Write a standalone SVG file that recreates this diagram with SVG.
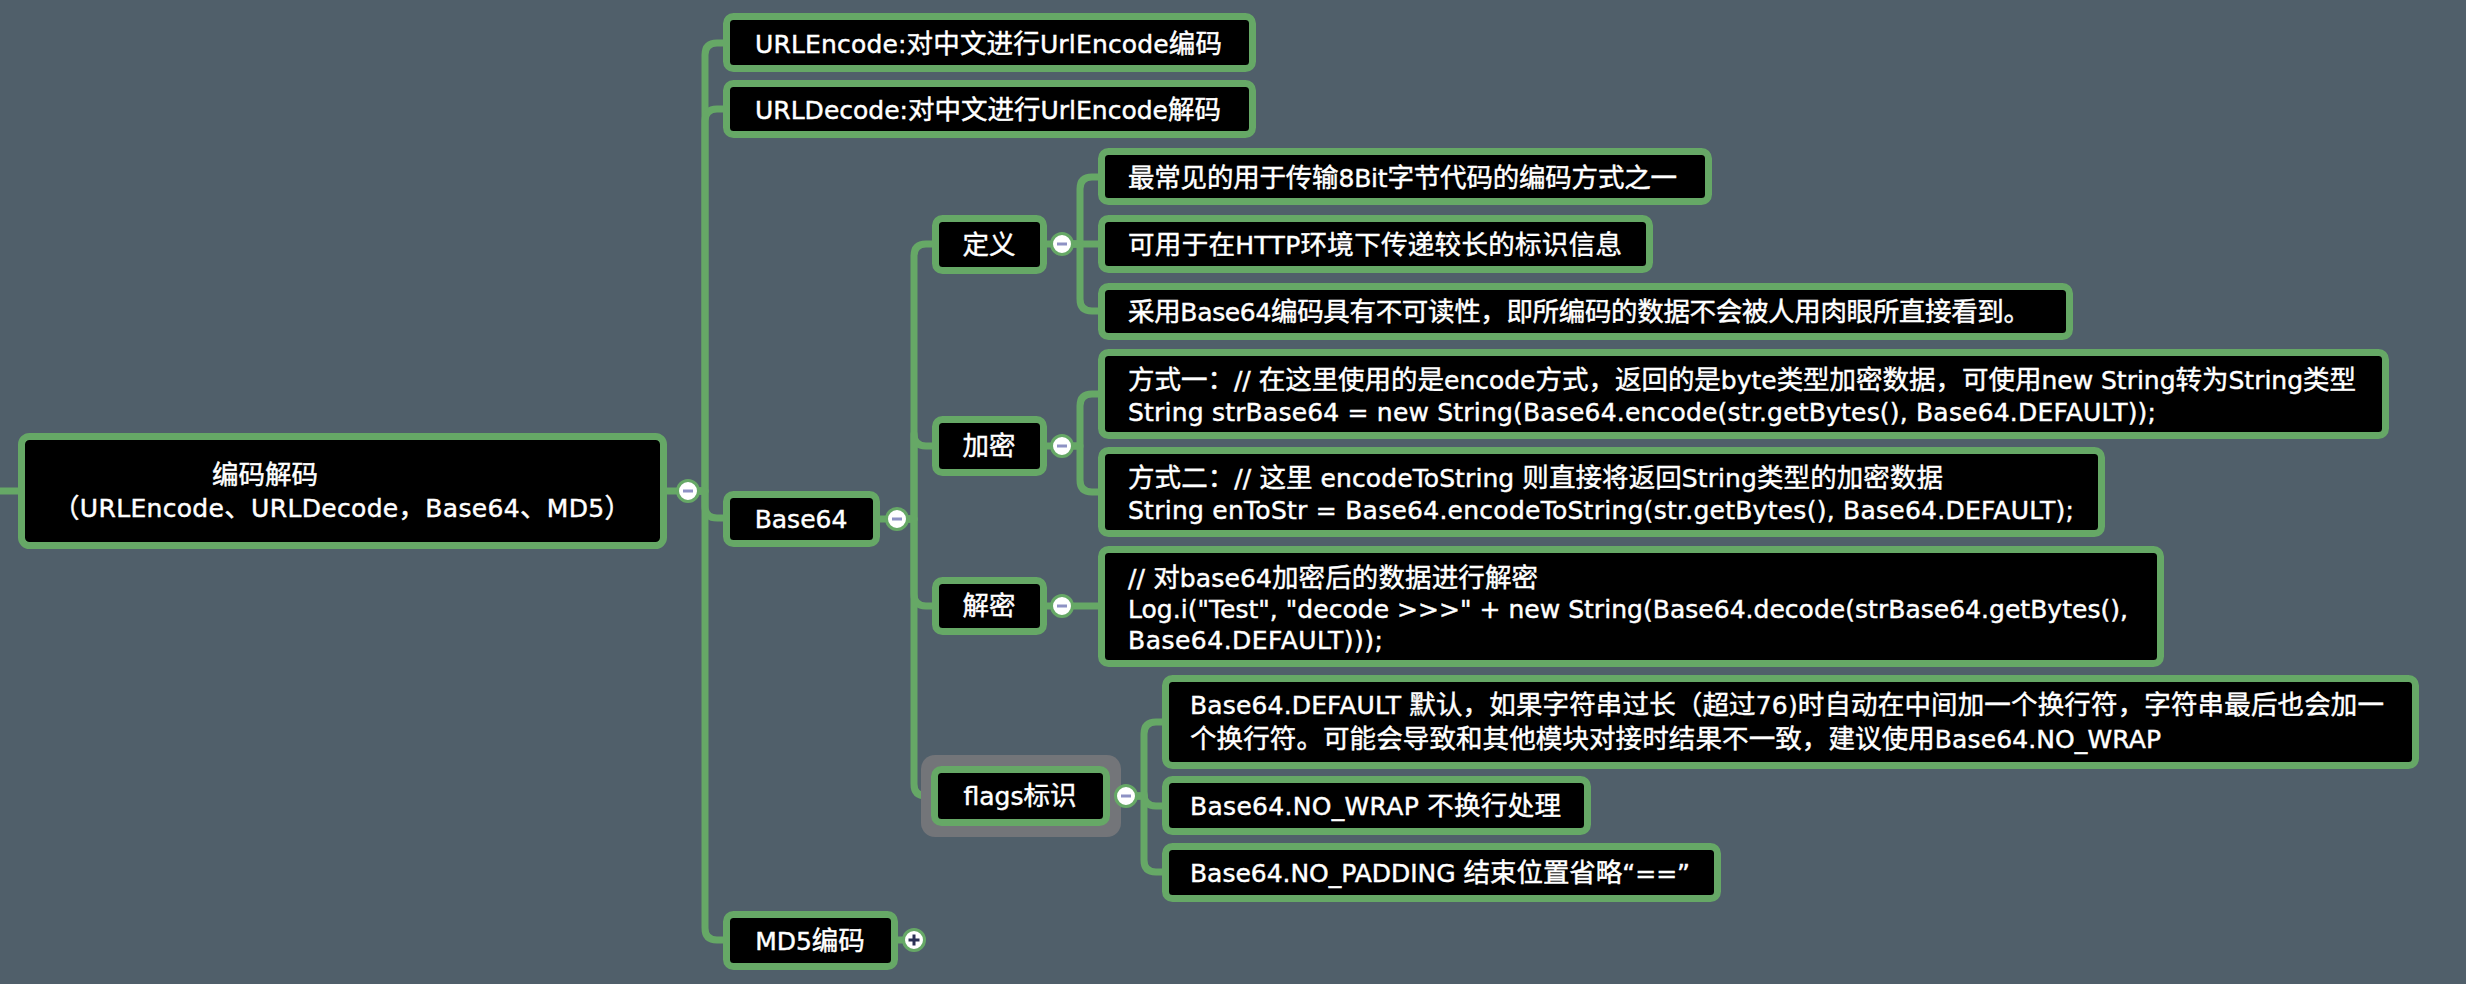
<svg xmlns="http://www.w3.org/2000/svg" width="2466" height="984" viewBox="0 0 2466 984">
<style>
.bg{fill:#505f6a}
.node rect.box{fill:#000;stroke:#66a866;stroke-width:7}
.t{fill:#fff;stroke:#fff;stroke-width:0.45;font-family:"DejaVu Sans","Noto Sans CJK SC",sans-serif;font-size:25px}
.k{font-size:26.5px}
.m{text-anchor:middle}
.c{fill:none;stroke:#66a866;stroke-width:7;stroke-linejoin:round}
.tog circle{fill:#fff;stroke:#66a866;stroke-width:3}
.minus{fill:#8e92c4}
.plus{fill:#2b3155}
.sel{fill:#737579}
</style>
<rect class="bg" x="0" y="0" width="2466" height="984"/>

<g id="connectors">
  <path class="c" d="M0,491 H20"/>
  <path class="c" d="M665,491 H690"/>
  <path class="c" d="M878,519 H900"/>
  <path class="c" d="M1045,244 H1065"/>
  <path class="c" d="M1045,446 H1065"/>
  <path class="c" d="M1045,606 H1065"/>
  <path class="c" d="M1108,796 H1128"/>
  <path class="c" d="M896,940 H914"/>
  <path class="c" d="M699,491 H705 V55 Q705,43 717,43 H726"/>
  <path class="c" d="M699,491 H705 V121 Q705,109 717,109 H726"/>
  <path class="c" d="M699,491 H705 V506 Q705,518 717,518 H726"/>
  <path class="c" d="M699,491 H705 V928 Q705,940 717,940 H726"/>
  <path class="c" d="M908,519 H914 V256 Q914,244 926,244 H935"/>
  <path class="c" d="M908,519 H914 V434 Q914,446 926,446 H935"/>
  <path class="c" d="M908,519 H914 V594 Q914,606 926,606 H935"/>
  <path class="c" d="M908,519 H914 V784 Q914,796 926,796 H934"/>
  <path class="c" d="M1073,244 H1080 V189 Q1080,177 1092,177 H1101"/>
  <path class="c" d="M1073,244 H1101"/>
  <path class="c" d="M1073,244 H1080 V299 Q1080,311 1092,311 H1101"/>
  <path class="c" d="M1073,446 H1080 V406 Q1080,394 1092,394 H1101"/>
  <path class="c" d="M1073,446 H1080 V480 Q1080,492 1092,492 H1101"/>
  <path class="c" d="M1073,606 H1101"/>
  <path class="c" d="M1137,796 H1144 V734 Q1144,722 1156,722 H1165"/>
  <path class="c" d="M1137,796 H1144 V794 Q1144,806 1156,806 H1165"/>
  <path class="c" d="M1137,796 H1144 V860 Q1144,872 1156,872 H1165"/>
</g>

<g id="root" class="node">
  <rect class="box" x="21.5" y="436.5" width="642" height="109" rx="8"/>
  <text class="t k m" x="265" y="484">编码解码</text>
  <text class="t m" x="342" y="517" textLength="578"><tspan class="k">（</tspan>URLEncode<tspan class="k">、</tspan>URLDecode<tspan class="k">，</tspan>Base64<tspan class="k">、</tspan>MD5<tspan class="k">）</tspan></text>
</g>

<g id="urlencode" class="node">
  <rect class="box" x="726.5" y="16.5" width="526" height="52" rx="7"/>
  <text class="t" x="755" y="53" textLength="467">URLEncode:<tspan class="k">对中文进行</tspan>UrlEncode<tspan class="k">编码</tspan></text>
</g>
<g id="urldecode" class="node">
  <rect class="box" x="726.5" y="83.5" width="526" height="51" rx="7"/>
  <text class="t" x="755" y="119" textLength="466">URLDecode:<tspan class="k">对中文进行</tspan>UrlEncode<tspan class="k">解码</tspan></text>
</g>
<g id="base64" class="node">
  <rect class="box" x="726.5" y="494.5" width="150" height="49" rx="7"/>
  <text class="t m" x="801" y="528">Base64</text>
</g>
<g id="md5" class="node">
  <rect class="box" x="726.5" y="914.5" width="168" height="52" rx="7"/>
  <text class="t m" x="810" y="950">MD5<tspan class="k">编码</tspan></text>
</g>

<g id="dingyi" class="node">
  <rect class="box" x="935.5" y="218.5" width="108" height="52" rx="7"/>
  <text class="t k m" x="989" y="254">定义</text>
</g>
<g id="jiami" class="node">
  <rect class="box" x="935.5" y="419.5" width="108" height="53" rx="7"/>
  <text class="t k m" x="989" y="455">加密</text>
</g>
<g id="jiemi" class="node">
  <rect class="box" x="935.5" y="580.5" width="108" height="51" rx="7"/>
  <text class="t k m" x="989" y="615">解密</text>
</g>
<g id="flags" class="node">
  <rect class="sel" x="921" y="755" width="200" height="82" rx="14"/>
  <rect class="box" x="934.5" y="769.5" width="172" height="53" rx="7"/>
  <text class="t m" x="1020" y="805">flags<tspan class="k">标识</tspan></text>
</g>

<g id="def1" class="node">
  <rect class="box" x="1101.5" y="151.5" width="607" height="50" rx="7"/>
  <text class="t" x="1128" y="187" textLength="549"><tspan class="k">最常见的用于传输</tspan>8Bit<tspan class="k">字节代码的编码方式之一</tspan></text>
</g>
<g id="def2" class="node">
  <rect class="box" x="1101.5" y="218.5" width="548" height="51" rx="7"/>
  <text class="t" x="1128" y="254" textLength="494"><tspan class="k">可用于在</tspan>HTTP<tspan class="k">环境下传递较长的标识信息</tspan></text>
</g>
<g id="def3" class="node">
  <rect class="box" x="1101.5" y="286.5" width="968" height="50" rx="7"/>
  <text class="t" x="1128" y="321" textLength="902"><tspan class="k">采用</tspan>Base64<tspan class="k">编码具有不可读性，即所编码的数据不会被人用肉眼所直接看到。</tspan></text>
</g>

<g id="enc1" class="node">
  <rect class="box" x="1101.5" y="352.5" width="1284" height="83" rx="7"/>
  <text class="t" x="1128" y="389" textLength="1228"><tspan class="k">方式一：</tspan>// <tspan class="k">在这里使用的是</tspan>encode<tspan class="k">方式，返回的是</tspan>byte<tspan class="k">类型加密数据，可使用</tspan>new String<tspan class="k">转为</tspan>String<tspan class="k">类型</tspan></text>
  <text class="t" x="1128" y="421" textLength="1028">String strBase64 = new String(Base64.encode(str.getBytes(), Base64.DEFAULT));</text>
</g>
<g id="enc2" class="node">
  <rect class="box" x="1101.5" y="450.5" width="1000" height="83" rx="7"/>
  <text class="t" x="1128" y="487" textLength="815"><tspan class="k">方式二：</tspan>// <tspan class="k">这里</tspan> encodeToString <tspan class="k">则直接将返回</tspan>String<tspan class="k">类型的加密数据</tspan></text>
  <text class="t" x="1128" y="519" textLength="946">String enToStr = Base64.encodeToString(str.getBytes(), Base64.DEFAULT);</text>
</g>

<g id="dec1" class="node">
  <rect class="box" x="1101.5" y="549.5" width="1059" height="114" rx="7"/>
  <text class="t" x="1128" y="587" textLength="410">// <tspan class="k">对</tspan>base64<tspan class="k">加密后的数据进行解密</tspan></text>
  <text class="t" x="1128" y="618" textLength="1000">Log.i("Test", "decode &gt;&gt;&gt;" + new String(Base64.decode(strBase64.getBytes(),</text>
  <text class="t" x="1128" y="649" textLength="255">Base64.DEFAULT)));</text>
</g>

<g id="flag1" class="node">
  <rect class="box" x="1165.5" y="678.5" width="1250" height="87" rx="7"/>
  <text class="t" x="1190" y="714" textLength="1194">Base64.DEFAULT <tspan class="k">默认，如果字符串过长（超过</tspan>76)<tspan class="k">时自动在中间加一个换行符，字符串最后也会加一</tspan></text>
  <text class="t" x="1190" y="748" textLength="971"><tspan class="k">个换行符。可能会导致和其他模块对接时结果不一致，建议使用</tspan>Base64.NO_WRAP</text>
</g>
<g id="flag2" class="node">
  <rect class="box" x="1165.5" y="779.5" width="422" height="52" rx="7"/>
  <text class="t" x="1190" y="815" textLength="371">Base64.NO_WRAP <tspan class="k">不换行处理</tspan></text>
</g>
<g id="flag3" class="node">
  <rect class="box" x="1165.5" y="846.5" width="552" height="52" rx="7"/>
  <text class="t" x="1190" y="882" textLength="500">Base64.NO_PADDING <tspan class="k">结束位置省略</tspan>“==”</text>
</g>

<g id="toggles">
  <g class="tog"><circle cx="688" cy="491" r="10.5"/><rect class="minus" x="683" y="489.5" width="10" height="3"/></g>
  <g class="tog"><circle cx="897" cy="519" r="10.5"/><rect class="minus" x="892" y="517.5" width="10" height="3"/></g>
  <g class="tog"><circle cx="1062" cy="244" r="10.5"/><rect class="minus" x="1057" y="242.5" width="10" height="3"/></g>
  <g class="tog"><circle cx="1062" cy="446" r="10.5"/><rect class="minus" x="1057" y="444.5" width="10" height="3"/></g>
  <g class="tog"><circle cx="1062" cy="606" r="10.5"/><rect class="minus" x="1057" y="604.5" width="10" height="3"/></g>
  <g class="tog"><circle cx="1126" cy="796" r="10.5"/><rect class="minus" x="1121" y="794.5" width="10" height="3"/></g>
  <g class="tog"><circle cx="914" cy="940" r="10.5"/><rect class="plus" x="908.5" y="938.5" width="11" height="3"/><rect class="plus" x="912.5" y="934.5" width="3" height="11"/></g>
</g>
</svg>
